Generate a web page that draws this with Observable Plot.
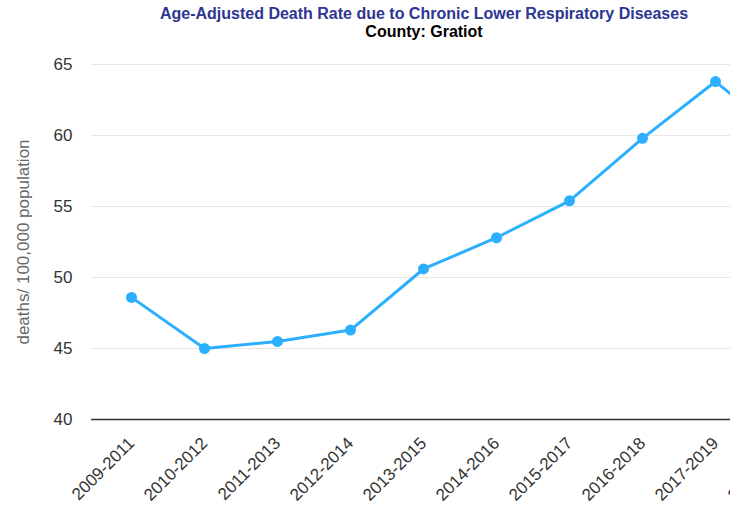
<!DOCTYPE html>
<html>
<head>
<meta charset="utf-8">
<script src="https://cdn.jsdelivr.net/npm/d3@7"></script>
<script src="https://cdn.jsdelivr.net/npm/@observablehq/plot@0.6"></script>
<style>
  html, body { margin: 0; padding: 0; background: #fff; overflow: hidden; }
  #clip { width: 730px; height: 512px; overflow: hidden; position: relative; }
  #inner { width: 848px; position: absolute; left: 0; top: 0; }
  .t1 { font: bold 16px/18px "Liberation Sans", Arial, sans-serif; color: #2e3592; text-align: center; position: absolute; top: 5px; left: 0; width: 848px; }
  .t2 { font: bold 16px/18px "Liberation Sans", Arial, sans-serif; color: #000; text-align: center; position: absolute; top: 23px; left: 0; width: 848px; }
  #chart { position: absolute; top: 44px; left: 0; }
</style>
</head>
<body>
<div id="clip"><div id="inner">
  <div class="t1">Age-Adjusted Death Rate due to Chronic Lower Respiratory Diseases</div>
  <div class="t2">County: Gratiot</div>
  <div id="chart"></div>
</div></div>
<script>
const periods = ["2009-2011","2010-2012","2011-2013","2012-2014","2013-2015","2014-2016","2015-2017","2016-2018","2017-2019","2018-2020"];
const rates = [48.6, 45.0, 45.5, 46.3, 50.6, 52.8, 55.4, 59.8, 63.8, 59.6];
const yTicks = [40, 45, 50, 55, 60, 65];
const yLabel = "deaths/ 100,000 population";

const data = periods.map((p, i) => ({period: p, rate: rates[i]}));

const chart = Plot.plot({
  width: 848,
  height: 468,
  marginTop: 20,
  marginBottom: 93,
  marginLeft: 91,
  marginRight: 21,
  style: {fontFamily: "'Liberation Sans', Arial, sans-serif", background: "transparent"},
  x: {type: "point", domain: periods, padding: 0.5},
  y: {domain: [40, 65]},
  marks: [
    Plot.gridY(yTicks.filter(d => d > 40), {stroke: "#e6e6e6", strokeOpacity: 1, strokeWidth: 1}),
    Plot.ruleY([40], {stroke: "#333", strokeWidth: 1.5}),
    Plot.axisY(yTicks, {tickSize: 0, tickPadding: 19, fontSize: 17, fill: "#333",
      label: yLabel, labelAnchor: "center", labelArrow: "none", labelOffset: 75}),
    Plot.axisX({tickSize: 0, tickPadding: 21, tickRotate: -45, fontSize: 17, fill: "#333", label: null}),
    Plot.line(data, {x: "period", y: "rate", stroke: "#2caffe", strokeWidth: 3}),
    Plot.dot(data, {x: "period", y: "rate", fill: "#2caffe", r: 5.5})
  ]
});
document.getElementById("chart").appendChild(chart);
chart.querySelectorAll("g[aria-label='y-axis label'] text").forEach(t => { t.setAttribute("fill", "#666"); t.setAttribute("font-size", "17"); });
</script>
</body>
</html>
